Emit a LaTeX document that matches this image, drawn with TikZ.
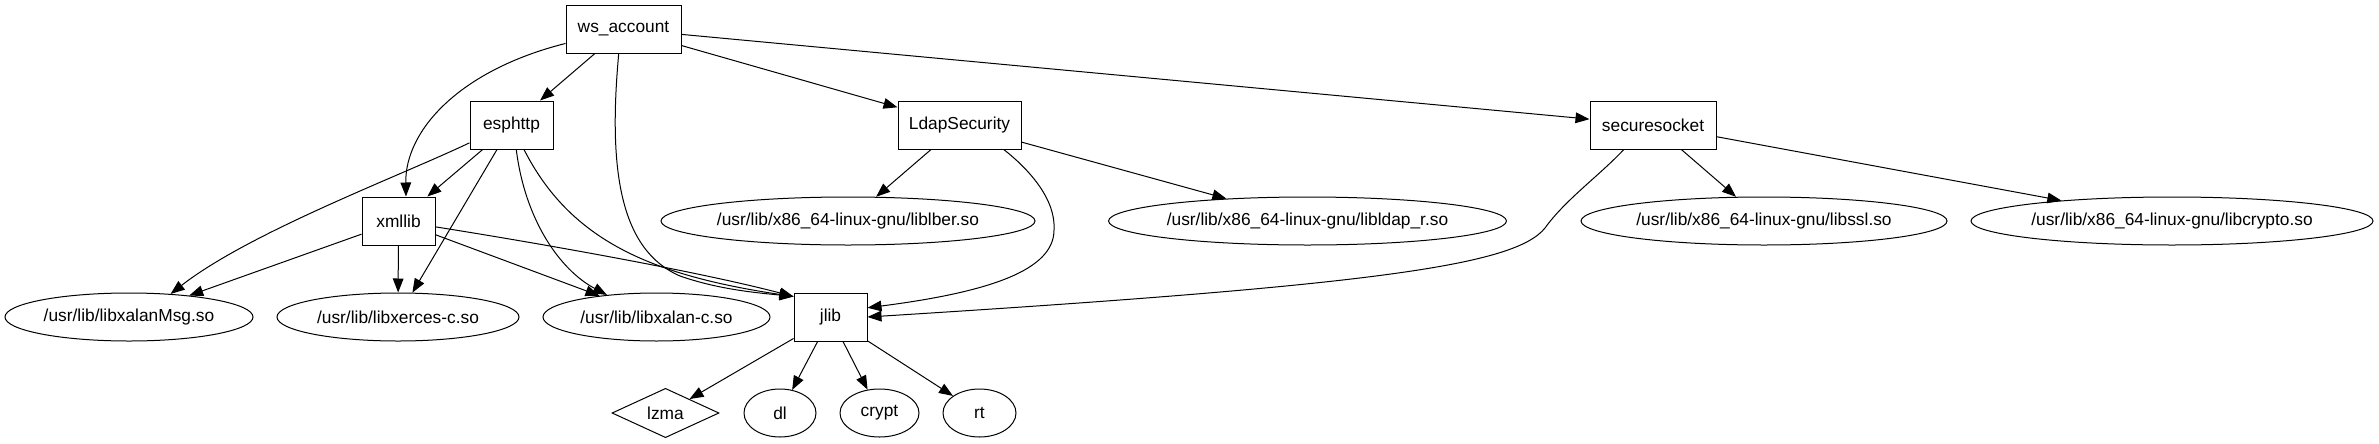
\documentclass[tikz,border=0pt]{standalone}
\usepackage{fontspec}
\setmainfont{Liberation Sans}
\usetikzlibrary{shapes.geometric,arrows.meta}
\begin{document}
\begin{tikzpicture}[x=0.75pt,y=-0.75pt,
  every node/.style={font=\fontsize{13}{15}\selectfont, inner sep=0pt, draw, line width=0.75pt},
  box/.style={rectangle, minimum height=36pt},
  lib/.style={ellipse, minimum height=36pt},
  dia/.style={diamond, minimum height=36pt},
  edge/.style={-{Triangle[length=10.5pt,width=8pt]}, line width=0.75pt},
]
\useasboundingbox (0,0) rectangle (2379,443);
% rectangles
\node[box, minimum width=86.25pt] (ws) at (623.5,29) {ws\_account};
\node[box, minimum width=62.25pt] (esp) at (511.5,125) {esphttp};
\node[box, minimum width=54.75pt] (xml) at (398.5,221) {xmllib};
\node[box, minimum width=92.25pt] (ldap) at (959.5,125) {LdapSecurity};
\node[box, minimum width=94.5pt] (ss) at (1653,125) {securesocket};
\node[box, minimum width=54.75pt] (jlib) at (830.5,317) {jlib};
% ellipses
\node[lib, minimum width=186pt] (msg) at (129,317) {/usr/lib/libxalanMsg.so};
\node[lib, minimum width=181.5pt] (xerces) at (398,317) {/usr/lib/libxerces-c.so};
\node[lib, minimum width=170.25pt] (xalan) at (656.5,317) {/usr/lib/libxalan-c.so};
\node[lib, minimum width=280.5pt] (lber) at (848,221) {/usr/lib/x86\_64-linux-gnu/liblber.so};
\node[lib, minimum width=297.75pt] (ldapr) at (1307.5,221) {/usr/lib/x86\_64-linux-gnu/libldap\_r.so};
\node[lib, minimum width=274.5pt] (ssl) at (1764,221) {/usr/lib/x86\_64-linux-gnu/libssl.so};
\node[lib, minimum width=301.5pt] (crypto) at (2172,221) {/usr/lib/x86\_64-linux-gnu/libcrypto.so};
\node[dia, minimum width=80.25pt] (lzma) at (665.5,413) {lzma};
\node[lib, minimum width=54pt] (dl) at (780,413) {dl};
\node[lib, minimum width=59.25pt] (crypt) at (879.5,413) {crypt};
\node[lib, minimum width=54.75pt] (rt) at (979.5,413) {rt};
% straight edges
\draw[edge] (ws) -- (esp);
\draw[edge] (ws) -- (ldap);
\draw[edge] (ws) -- (ss);
\draw[edge] (esp) -- (xml);
\draw[edge] (esp) -- (xerces);
\draw[edge] (xml) -- (msg);
\draw[edge] (xml) -- (xerces);
\draw[edge] (xml) -- (xalan);
\draw[edge] (ldap) -- (lber);
\draw[edge] (ldap) -- (ldapr);
\draw[edge] (ss) -- (ssl);
\draw[edge] (ss) -- (crypto);
\draw[edge] (jlib) -- (lzma);
\draw[edge] (jlib) -- (dl);
\draw[edge] (jlib) -- (crypt);
\draw[edge] (jlib) -- (rt);
% curved edges
\draw[edge] (ws.194) .. controls (460,70) and (405,130) .. (xml.73);
\draw[edge] (ws.259) .. controls (608,170) and (620,250) .. (680,276)
  .. controls (720,290) and (760,293) .. (jlib.151);
\draw[edge] (esp.203) .. controls (400,176) and (250,232) .. (msg.29);
\draw[edge] (esp.281) .. controls (525,220) and (560,270) .. (xalan.156);
\draw[edge] (esp.297) .. controls (570,240) and (650,275) .. (jlib.151);
\draw[edge] (xml.351) .. controls (550,245) and (700,272) .. (jlib.151);
\draw[edge] (ldap.331) .. controls (1030,170) and (1056,200) .. (1054,230)
  .. controls (1054,270) and (990,292) .. (jlib.14);
\draw[edge] (ss.220) .. controls (1600,175) and (1565,200) .. (1545,228)
  .. controls (1515,265) and (1380,285) .. (jlib.east);
\end{tikzpicture}
\end{document}
